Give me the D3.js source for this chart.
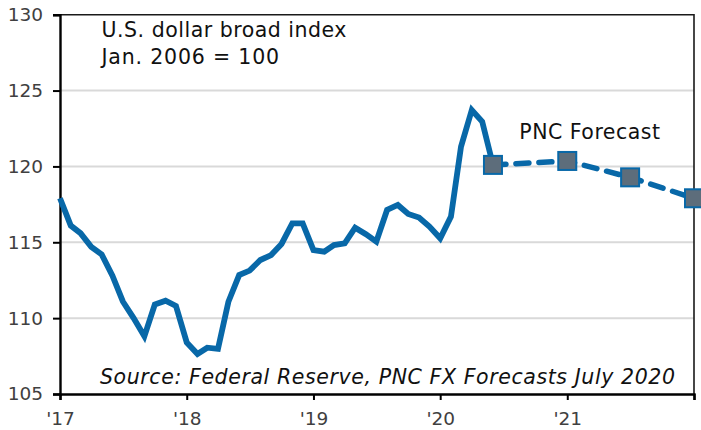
<!DOCTYPE html>
<html>
<head>
<meta charset="utf-8">
<script src="https://cdn.jsdelivr.net/npm/d3@7"></script>
<style>
  html, body { margin: 0; padding: 0; background: #fff; }
  svg { display: block; }
  text { font-family: "DejaVu Sans", Verdana, sans-serif; }
</style>
</head>
<body>
<svg id="chart" width="701" height="430"></svg>
<script>
// ---- data ----
const histMonths = [
  "2017-01","2017-02","2017-03","2017-04","2017-05","2017-06","2017-07","2017-08","2017-09","2017-10","2017-11","2017-12",
  "2018-01","2018-02","2018-03","2018-04","2018-05","2018-06","2018-07","2018-08","2018-09","2018-10","2018-11","2018-12",
  "2019-01","2019-02","2019-03","2019-04","2019-05","2019-06","2019-07","2019-08","2019-09","2019-10","2019-11","2019-12",
  "2020-01","2020-02","2020-03","2020-04","2020-05","2020-06"
];
const histValues = [
  117.9, 116.1, 115.6, 114.7, 114.2, 112.8, 111.1, 110.0, 108.8, 110.9, 111.15, 110.8,
  108.4, 107.64, 108.05, 107.97, 111.08, 112.84, 113.13, 113.83, 114.16, 114.89, 116.25, 116.25,
  114.49, 114.38, 114.82, 114.93, 115.96, 115.53, 115.04, 117.13, 117.46, 116.87, 116.63, 116.03,
  115.26, 116.69, 121.3, 123.72, 122.95, 120.1
];
const forecastMonths = ["2020-06", "2021-01", "2021-07", "2022-01"];
const forecastValues = [120.1, 120.36, 119.28, 117.9];
const yTicks = [105, 110, 115, 120, 125, 130];
const xTickYears = ["2017", "2018", "2019", "2020", "2021", "2022"];
const xTickLabels = ["'17", "'18", "'19", "'20", "'21", ""];
const titleLines = ["U.S. dollar broad index", "Jan. 2006 = 100"];
const forecastLabel = "PNC Forecast";
const sourceText = "Source: Federal Reserve, PNC FX Forecasts July 2020";

// ---- layout ----
const mLeft = 60, mRight = 694, mTop = 14.7, mBottom = 394;
const parseM = d3.timeParse("%Y-%m");
const parseY = d3.timeParse("%Y");

const x = d3.scaleTime()
  .domain([parseY("2017"), parseY("2022")])
  .range([mLeft, mRight]);
const y = d3.scaleLinear().domain([105, 130]).range([mBottom, mTop]);

const svg = d3.select("#chart");

// gridlines
svg.append("g")
  .selectAll("line")
  .data(yTicks.filter(t => t > 105 && t < 130))
  .join("line")
  .attr("x1", mLeft).attr("x2", mRight)
  .attr("y1", d => y(d)).attr("y2", d => y(d))
  .attr("stroke", "#d9d9d9").attr("stroke-width", 2);

// frame top/right
svg.append("path")
  .attr("d", `M${mLeft},${mTop}H${mRight}V${mBottom}`)
  .attr("fill", "none").attr("stroke", "#1a1a1a").attr("stroke-width", 1.6);

// y axis
const yAxis = d3.axisLeft(y).tickValues(yTicks).tickSize(7).tickPadding(10).tickFormat(d3.format("d"));
const gy = svg.append("g").attr("transform", `translate(${mLeft},0)`).call(yAxis);
gy.select(".domain").attr("stroke", "#000").attr("stroke-width", 2.4);
gy.selectAll(".tick line").attr("stroke", "#000").attr("stroke-width", 2);
gy.selectAll(".tick text").attr("font-size", 18.5).attr("fill", "#404040")
  .attr("font-family", "DejaVu Sans, Verdana, sans-serif");

// x axis
const xDates = xTickYears.map(parseY);
const xAxis = d3.axisBottom(x).tickValues(xDates).tickSize(6).tickPadding(12)
  .tickFormat((d, i) => xTickLabels[i]);
const gx = svg.append("g").attr("transform", `translate(0,${mBottom})`).call(xAxis);
gx.select(".domain").attr("stroke", "#000").attr("stroke-width", 2.4);
gx.selectAll(".tick line").attr("stroke", "#000").attr("stroke-width", 2);
gx.selectAll(".tick text").attr("font-size", 18.5).attr("fill", "#404040")
  .attr("font-family", "DejaVu Sans, Verdana, sans-serif");

const blue = "#0868a8";

// forecast dashed line
const fData = forecastMonths.map((m, i) => ({ d: parseM(m), v: forecastValues[i] }));
const line = d3.line().x(p => x(p.d)).y(p => y(p.v));
svg.append("path")
  .datum(fData)
  .attr("d", line)
  .attr("fill", "none").attr("stroke", blue).attr("stroke-width", 5.5)
  .attr("stroke-linecap", "round")
  .attr("stroke-dasharray", "13,10");

// history line
const hData = histMonths.map((m, i) => ({ d: parseM(m), v: histValues[i] }));
svg.append("path")
  .datum(hData)
  .attr("d", line)
  .attr("fill", "none").attr("stroke", blue).attr("stroke-width", 5.8)
  .attr("stroke-linejoin", "miter").attr("stroke-miterlimit", 3);

// markers
const ms = 18;
svg.append("g").selectAll("rect")
  .data(fData)
  .join("rect")
  .attr("x", p => x(p.d) - ms / 2).attr("y", p => y(p.v) - ms / 2)
  .attr("width", ms).attr("height", ms)
  .attr("fill", "#5d6d7b").attr("stroke", blue).attr("stroke-width", 2);

// titles
const titleWidths = [245, 177.6];
svg.append("g").selectAll("text")
  .data(titleLines)
  .join("text")
  .attr("x", 101.5).attr("y", (d, i) => 37 + i * 26.6)
  .attr("font-size", 20.5).attr("fill", "#111")
  .attr("textLength", (d, i) => titleWidths[i]).attr("lengthAdjust", "spacing")
  .text(d => d);

svg.append("text")
  .attr("x", 519.3).attr("y", 138.5)
  .attr("font-size", 20.5).attr("fill", "#111")
  .attr("textLength", 140.7).attr("lengthAdjust", "spacing")
  .text(forecastLabel);

svg.append("text")
  .attr("x", 100).attr("y", 383.5)
  .attr("font-size", 20.5).attr("font-style", "italic").attr("fill", "#111")
  .attr("textLength", 575).attr("lengthAdjust", "spacing")
  .text(sourceText);
</script>
</body>
</html>
